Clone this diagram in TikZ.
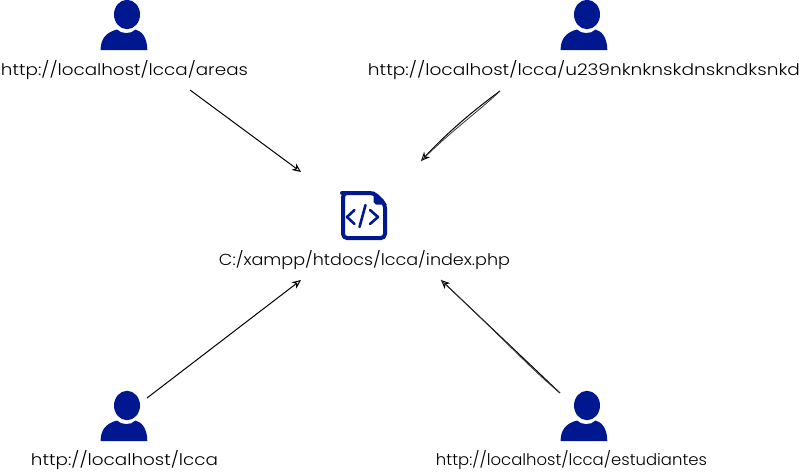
\documentclass[tikz,border=0pt]{standalone}
\usepackage{fontspec}
\setmainfont{Poppins}[UprightFont=* Light]
\usetikzlibrary{arrows.meta}
\definecolor{iconblue}{HTML}{00188F}
\newcommand{\fitw}[2]{\resizebox{#1pt}{\height}{#2}}
\tikzset{
  x=1pt,y=-1pt,
  urlabel/.style={font=\fontsize{16}{18}\selectfont,text=black,inner sep=0pt,anchor=base},
  sketch/.style={draw=black,line width=1pt,-{Stealth[open,length=9pt,width=8pt]}},
  sketchb/.style={draw=black!80,line width=0.8pt},
  person/.pic={
    \fill[iconblue] (27,14.5) ellipse [x radius=13,y radius=14.7];
    \fill[iconblue] (0.6,50) .. controls (0.6,40) and (5,32.5) .. (17,29.5)
      .. controls (21,34) and (31,34.5) .. (35.5,29.5)
      .. controls (42,31) and (47.3,38) .. (47.3,50) -- cycle;
  },
  fileicon/.pic={
    \draw[iconblue,line width=4pt,line join=round,rounded corners=4pt]
      (34,3) -- (6,3) -- (3,3) -- (3,48) -- (45,48) -- (45,14) -- cycle;
    \fill[iconblue] (33.5,1) -- (47,14.5) -- (36,14.5) -- (33.5,12) -- cycle;
    \draw[iconblue,line width=2.6pt,line cap=round,line join=round]
      (14.5,20) -- (7,27) -- (14.5,34) (30,20) -- (38,27) -- (30,34) (25.5,15) -- (19.5,37);
  }
}
\begin{document}
\begin{tikzpicture}
\useasboundingbox (0,0) rectangle (800,472);
\pic (pa) at (100,0) {person};
\pic (pb) at (560,0) {person};
\pic (pc) at (100,391) {person};
\pic (pd) at (560,391) {person};
\pic (doc) at (340,190) {fileicon};
\node[urlabel] (la) at (124.5,75) {\fitw{247}{http://localhost/lcca/areas}};
\node[urlabel] (lb) at (584,75) {\fitw{432}{http://localhost/lcca/u239nknknskdnskndksnkd}};
\node[urlabel] (lc) at (124.5,465) {\fitw{187}{http://localhost/lcca}};
\node[urlabel] (ld) at (571.5,465) {\fitw{271}{http://localhost/lcca/estudiantes}};
\node[urlabel] (lm) at (364.5,265) {\fitw{291}{C:/xampp/htdocs/lcca/index.php}};
\coordinate (a1) at (190,90);
\coordinate (a2) at (301,172);
\coordinate (b1) at (500,91);
\coordinate (b2) at (421,161);
\coordinate (c1) at (147,398);
\coordinate (c2) at (301,280);
\coordinate (d1) at (560,393);
\coordinate (d2) at (441,280);
\draw[sketch] (a1) -- (a2);
\draw[sketch] (b1) .. controls (470,113) and (445,135) .. (b2);
\draw[sketchb] (b1) .. controls (478,112) and (452,130) .. (b2);
\draw[sketch] (c1) -- (c2);
\draw[sketch] (d1) -- (d2);
\draw[sketchb] (d1) .. controls (530,368) and (510,345) .. (d2);
\end{tikzpicture}
\end{document}
